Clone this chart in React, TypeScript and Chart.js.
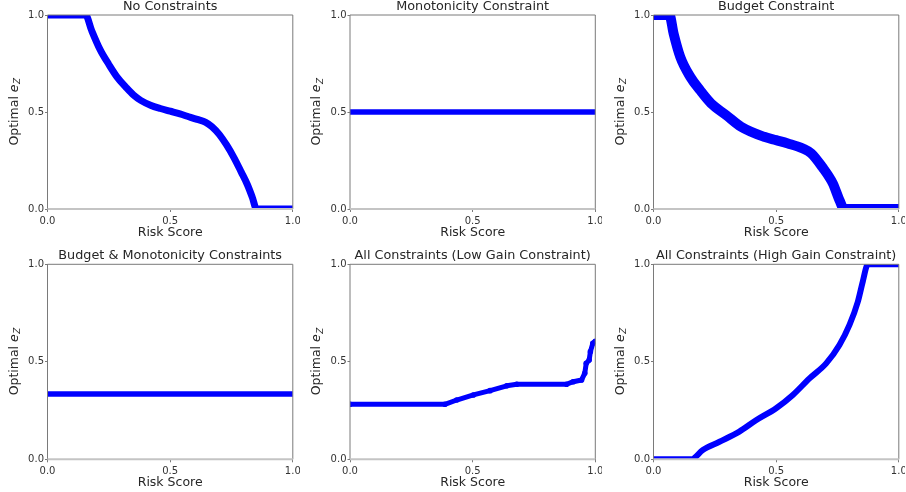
import React, { useEffect, useRef } from "react";
import { Chart, registerables } from "chart.js";

Chart.register(...registerables);

// ---------- data ----------
const TICK_VALUES = [0, 0.5, 1];
const TICK_LABELS = ["0.0", "0.5", "1.0"];
const X_LABEL = "Risk Score";
const TITLES = [
  "No Constraints",
  "Monotonicity Constraint",
  "Budget Constraint",
  "Budget & Monotonicity Constraints",
  "All Constraints (Low Gain Constraint)",
  "All Constraints (High Gain Constraint)",
];

const riskNone = [0, 0.155, 0.18, 0.215, 0.25, 0.283, 0.32, 0.35, 0.38, 0.42, 0.46, 0.5, 0.54, 0.57, 0.61, 0.645, 0.67, 0.7, 0.73, 0.76, 0.79, 0.815, 0.835, 0.852, 1];
const ezNone = [1, 1, 0.92, 0.82, 0.745, 0.681, 0.627, 0.588, 0.56, 0.535, 0.518, 0.504, 0.49, 0.478, 0.462, 0.447, 0.425, 0.385, 0.33, 0.265, 0.19, 0.125, 0.06, 0, 0];

const riskMono = [0, 1];
const ezMono = [0.5, 0.5];

const riskBudget = [0, 0.065, 0.082, 0.109, 0.15, 0.19, 0.235, 0.296, 0.357, 0.451, 0.5, 0.548, 0.609, 0.643, 0.687, 0.731, 0.758, 0.777, 1];
const ezBudget = [1, 1, 0.904, 0.784, 0.681, 0.612, 0.544, 0.484, 0.424, 0.372, 0.355, 0.338, 0.312, 0.287, 0.218, 0.132, 0.046, 0, 0];

const riskBudgetMono = [0, 1];
const ezBudgetMono = [0.335, 0.335];

const riskLow = [0, 0.387, 0.435, 0.503, 0.571, 0.639, 0.68, 0.883, 0.91, 0.944, 0.957, 0.963, 0.975, 0.98, 0.99, 1.0];
const ezLow = [0.282, 0.282, 0.304, 0.33, 0.352, 0.377, 0.385, 0.385, 0.398, 0.407, 0.441, 0.492, 0.509, 0.552, 0.595, 0.605];

const riskHigh = [0, 0.154, 0.201, 0.269, 0.35, 0.418, 0.5, 0.568, 0.636, 0.704, 0.758, 0.799, 0.833, 0.853, 0.871, 0.875, 1];
const ezHigh = [0, 0, 0.048, 0.09, 0.142, 0.2, 0.262, 0.33, 0.415, 0.492, 0.586, 0.689, 0.808, 0.911, 0.997, 1, 1];

const SERIES_X = [riskNone, riskMono, riskBudget, riskBudgetMono, riskLow, riskHigh];
const SERIES_Y = [ezNone, ezMono, ezBudget, ezBudgetMono, ezLow, ezHigh];

// ---------- layout / style ----------
const FONT = '"DejaVu Sans", "Liberation Sans", sans-serif';
const CANVAS_W = 300;
const CANVAS_H = 245;
const CANVAS_LEFT = [0, 302, 605];
const CANVAS_TOP = [0, 247];
const CHART_LEFT = [47.5, 350, 653.5];
const CHART_W = 245.3;
const CHART_TOP = [15, 264.3];
const CHART_BOTTOM = [209, 459.3];
const X_AXIS_H = 20;
const LINE_W = [7, 5.5, 10, 5.5, 5, 6];
const TENSION_MODE = ["monotone", "default", "monotone", "default", "default", "monotone"];

const panelText = {
  id: "panelText",
  afterDatasetsDraw(chart: any, _args: any, opts: any) {
    const { ctx, chartArea: a } = chart;
    ctx.save();
    // spines
    ctx.strokeStyle = "#7a7a7a";
    ctx.lineWidth = 1;
    ctx.beginPath();
    ctx.moveTo(a.left, a.bottom);
    ctx.lineTo(a.left, a.top);
    ctx.lineTo(a.right, a.top);
    ctx.lineTo(a.right, a.bottom);
    ctx.stroke();
    ctx.strokeStyle = "#c4c4c4";
    ctx.lineWidth = 2;
    ctx.beginPath();
    ctx.moveTo(a.left, a.bottom);
    ctx.lineTo(a.right, a.bottom);
    ctx.stroke();

    const cx = (a.left + a.right) / 2;
    ctx.fillStyle = "#262626";
    ctx.textAlign = "center";
    ctx.textBaseline = "alphabetic";
    ctx.font = `12.8px ${FONT}`;
    ctx.fillText(opts.title, cx, a.top - 5.5);
    ctx.font = `12.5px ${FONT}`;
    ctx.fillText(X_LABEL, cx, a.bottom + 26.5);

    // y axis label: Optimal e_Z
    ctx.translate(a.left - 30, (a.top + a.bottom) / 2);
    ctx.rotate(-Math.PI / 2);
    ctx.textAlign = "left";
    const normal = `12.5px ${FONT}`;
    const ital = `italic 12.5px ${FONT}`;
    const sub = `italic 8.8px ${FONT}`;
    ctx.font = normal;
    const w1 = ctx.measureText("Optimal ").width;
    ctx.font = ital;
    const w2 = ctx.measureText("e").width;
    ctx.font = sub;
    const w3 = ctx.measureText("Z").width;
    let x = -(w1 + w2 + w3) / 2;
    ctx.font = normal;
    ctx.fillText("Optimal ", x, 0);
    x += w1;
    ctx.font = ital;
    ctx.fillText("e", x, 0);
    x += w2;
    ctx.font = sub;
    ctx.fillText("Z", x + 0.5, 2.8);
    ctx.restore();
  },
};

function axis(isX: boolean, fitSize: number) {
  return {
    type: "linear",
    min: 0,
    max: 1,
    afterBuildTicks: (s: any) => {
      s.ticks = TICK_VALUES.map((v) => ({ value: v }));
    },
    ticks: {
      callback: (v: number) => TICK_LABELS[TICK_VALUES.indexOf(v)],
      font: { family: FONT, size: 10 },
      color: "#333333",
      padding: isX ? 3 : 1,
      maxRotation: 0,
      autoSkip: false,
    },
    grid: {
      display: true,
      drawOnChartArea: false,
      drawTicks: true,
      tickLength: isX ? 3 : 2.5,
      color: "#7a7a7a",
      lineWidth: 1,
    },
    border: { display: false },
    afterFit: (s: any) => {
      if (isX) {
        s.height = fitSize;
        s.paddingLeft = 0;
        s.paddingRight = 0;
      } else {
        s.width = fitSize;
        s.paddingTop = 0;
        s.paddingBottom = 0;
      }
    },
  };
}

function makeConfig(i: number): any {
  const col = i % 3;
  const row = Math.floor(i / 3);
  const yWidth = CHART_LEFT[col] - CANVAS_LEFT[col];
  const padTop = CHART_TOP[row] - CANVAS_TOP[row];
  const padBottom = CANVAS_H - (CHART_BOTTOM[row] - CANVAS_TOP[row]) - X_AXIS_H;
  const padRight = CANVAS_W - yWidth - CHART_W;
  const xs = SERIES_X[i];
  const ys = SERIES_Y[i];
  return {
    type: "scatter",
    data: {
      datasets: [
        {
          data: xs.map((x, k) => ({ x, y: ys[k] })),
          showLine: true,
          borderColor: "#0000ff",
          backgroundColor: "#0000ff",
          borderWidth: LINE_W[i],
          pointRadius: i === 4 ? 2.8 : 0,
          pointBorderWidth: 0,
          cubicInterpolationMode: TENSION_MODE[i],
          tension: 0,
          borderCapStyle: "round",
          borderJoinStyle: "round",
          clip: 0,
        },
      ],
    },
    options: {
      animation: false,
      responsive: false,
      devicePixelRatio: 1,
      layout: { padding: { left: 0, right: padRight, top: padTop, bottom: padBottom } },
      plugins: {
        legend: { display: false },
        tooltip: { enabled: false },
        title: { display: false },
        panelText: { title: TITLES[i] },
      },
      scales: {
        x: axis(true, X_AXIS_H),
        y: axis(false, yWidth),
      },
    },
    plugins: [panelText],
  };
}

export default function App() {
  const refs = useRef<(HTMLCanvasElement | null)[]>([]);
  useEffect(() => {
    const charts = TITLES.map((_, i) => new Chart(refs.current[i] as HTMLCanvasElement, makeConfig(i)));
    return () => charts.forEach((c) => c.destroy());
  }, []);
  return (
    <div style={{ position: "fixed", left: 0, top: 0, width: 906, height: 492, background: "#ffffff", overflow: "hidden" }}>
      {TITLES.map((_, i) => (
        <canvas
          key={i}
          ref={(el) => {
            refs.current[i] = el;
          }}
          width={CANVAS_W}
          height={CANVAS_H}
          style={{
            position: "absolute",
            left: CANVAS_LEFT[i % 3],
            top: CANVAS_TOP[Math.floor(i / 3)],
            width: CANVAS_W,
            height: CANVAS_H,
          }}
        />
      ))}
    </div>
  );
}
